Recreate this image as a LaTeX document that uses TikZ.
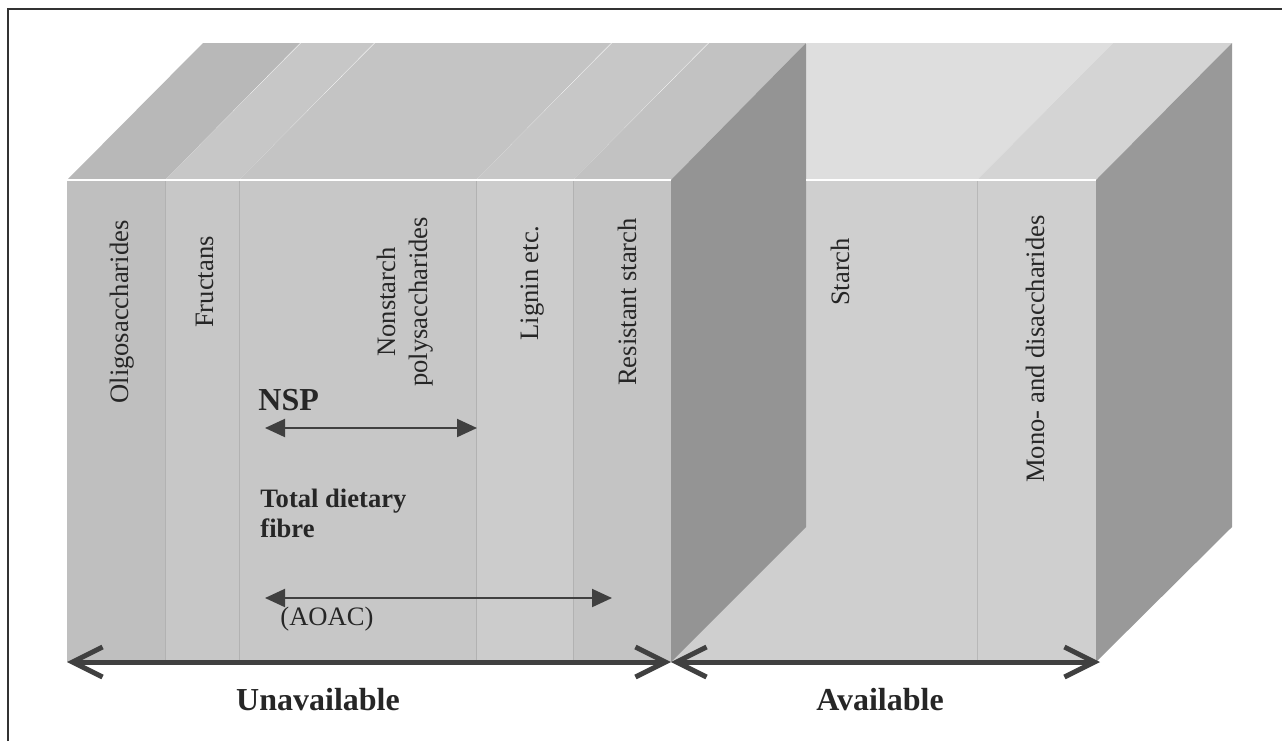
\documentclass[tikz,border=0pt]{standalone}
\usepackage{fontspec}
\setmainfont{Liberation Serif}
\usetikzlibrary{arrows.meta}
\begin{document}
\begin{tikzpicture}[x=0.5pt,y=-0.5pt,
    lbl/.style={rotate=90,font=\fontsize{13.3}{16}\selectfont,text=black!85,align=center,inner sep=0pt},
    boldlbl/.style={font=\fontsize{13.3}{15}\selectfont\bfseries,text=black!85,align=left,inner sep=0pt},
    biglbl/.style={font=\fontsize{16}{19}\selectfont\bfseries,text=black!85,inner sep=0pt},
    spanarrow/.style={draw=black!75,line width=1pt,{Triangle[length=10pt,width=9pt]}-{Triangle[length=10pt,width=9pt]}},
    sharearrow/.style={draw=black!75,line width=2.5pt,{Straight Barb[length=15pt,width=15pt]}-{Straight Barb[length=15pt,width=15pt]}}]
  \useasboundingbox (0,0) rectangle (1282,741);
  \draw[black!80,line width=1pt] (8,741) -- (8,9) -- (1282,9);
  % available block
  \fill[black!19] (671,180) rectangle (1096,662);
  \fill[black!13] (671,180) -- (807,43) -- (1113,43) -- (977,180) -- cycle;
  \fill[black!17] (977,180) -- (1113,43) -- (1232,43) -- (1096,180) -- cycle;
  \draw[black!28,line width=0.4pt] (977,180) -- (977,662);
  \fill[black!40] (1096,180) -- (1232,43) -- (1232,527) -- (1096,662) -- cycle;
  % unavailable block, one column at a time
  \foreach \xa/\xb/\cf/\ct in {67/165/25/28, 165/239/22/22, 239/476/22/23, 476/573/20/22, 573/671/23/24} {
    \fill[black!\cf] (\xa,180) rectangle (\xb,662);
    \fill[black!\ct] (\xa,180) -- ++(136,-137) -- (\xb+135,43) -- (\xb,180) -- cycle;
  }
  \foreach \x in {165,239,476,573}
    \draw[black!30,line width=0.4pt] (\x,180) -- (\x,662);
  \fill[black!42] (671,180) -- (806,43) -- (806,527) -- (671,662) -- cycle;
  \draw[white,line width=0.6pt] (67,180) -- (671,180) (806,180) -- (1096,180);
  % column labels
  \node[lbl] (oligo) at (122,312) {Oligosaccharides};
  \node[lbl] (fructans) at (205,282) {Fructans};
  \node[lbl] (nonstarch) at (405,302) {Nonstarch\\polysaccharides};
  \node[lbl] (lignin) at (533,283) {Lignin etc.};
  \node[lbl] (resistant) at (627,302) {Resistant starch};
  \node[lbl] (starch) at (840,272) {Starch};
  \node[lbl] (mono) at (1035,349) {Mono- and disaccharides};
  % fibre measures
  \node[biglbl,anchor=base west] (nsp) at (258,410) {NSP};
  \coordinate (nspL) at (265,428);
  \coordinate (nspR) at (477,428);
  \draw[spanarrow] (nspL) -- (nspR);
  \node[boldlbl,anchor=base west] (tdf) at (260,537) {Total dietary\\fibre};
  \coordinate (tdfL) at (265,598);
  \coordinate (tdfR) at (612,598);
  \draw[spanarrow] (tdfL) -- (tdfR);
  \node[anchor=base west,inner sep=0pt,text=black!85,font=\fontsize{13.3}{16}\selectfont] (aoac) at (280,625) {(AOAC)};
  % availability
  \coordinate (unL) at (67,662);
  \coordinate (split) at (671,662);
  \coordinate (avR) at (1100,662);
  \draw[sharearrow] (unL) -- (split);
  \draw[sharearrow] (split) -- (avR);
  \node[biglbl,anchor=base] (unavail) at (318,710) {Unavailable};
  \node[biglbl,anchor=base] (avail) at (880,710) {Available};
\end{tikzpicture}
\end{document}
